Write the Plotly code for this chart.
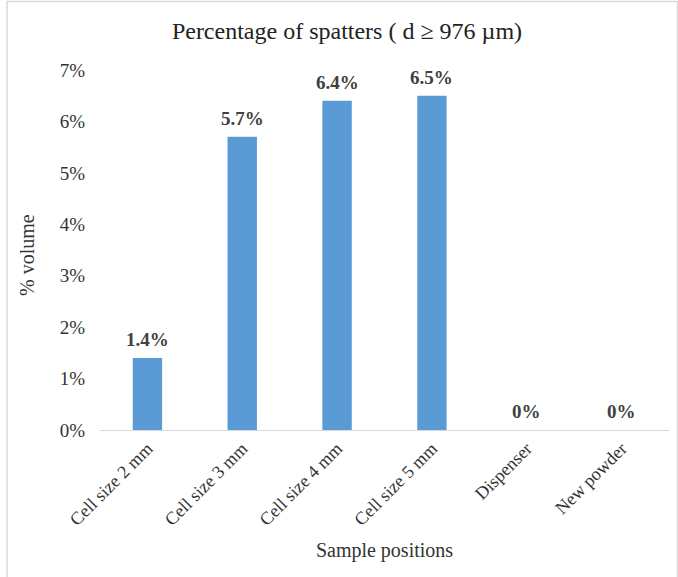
import plotly.graph_objects as go

# Sample positions and spatter volume fraction (%)
positions = ["Cell size 2 mm", "Cell size 3 mm", "Cell size 4 mm",
             "Cell size 5 mm", "Dispenser", "New powder"]
spatter_pct = [1.4, 5.7, 6.4, 6.5, 0, 0]
y_ticks = [0, 1, 2, 3, 4, 5, 6, 7]
y_tick_labels = [f"{v}%" for v in y_ticks]

FONT = "Liberation Serif, Times New Roman, serif"
TEXT = "#333333"
BAR = "#5B9BD5"
GRID = "#D9D9D9"

W, H = 678, 577
L, R, T, B = 100, 9, 70, 147
plot_w = W - L - R
plot_h = H - T - B


def px_to_paper_x(px):
    return (px - L) / plot_w


def px_to_paper_y(py):
    return (H - B - py) / plot_h


fig = go.Figure()
fig.add_trace(go.Bar(
    x=positions,
    y=spatter_pct,
    marker=dict(color=BAR, line=dict(width=0)),
    hoverinfo="x+y",
))

# value labels above each bar
annotations = []
for cat, val in zip(positions, spatter_pct):
    label = f"{val:.1f}%" if val else "0%"
    annotations.append(dict(
        x=cat, y=val, xref="x", yref="y",
        text=f"<b>{label}</b>", showarrow=False,
        yanchor="bottom", yshift=6,
        font=dict(family=FONT, size=19, color="#404040"),
    ))

# rotated y-axis title
annotations.append(dict(
    x=px_to_paper_x(27), y=px_to_paper_y(255), xref="paper", yref="paper",
    text="% volume", textangle=-90, showarrow=False,
    xanchor="center", yanchor="middle",
    font=dict(family=FONT, size=20, color=TEXT),
))

fig.update_layout(
    width=W, height=H,
    margin=dict(l=L, r=R, t=T, b=B, pad=0),
    paper_bgcolor="white",
    plot_bgcolor="white",
    bargap=0.69,
    showlegend=False,
    title=dict(
        text="Percentage of spatters ( d \u2265 976 \u00b5m)",
        x=347 / W, xanchor="center",
        y=1 - 31 / H, yanchor="middle",
        font=dict(family=FONT, size=24, color="#222222"),
    ),
    xaxis=dict(
        tickangle=-45,
        tickfont=dict(family=FONT, size=18, color=TEXT),
        showline=True, linecolor=GRID, linewidth=1,
        showgrid=False, ticks="",
        title=dict(text="Sample positions", standoff=14,
                   font=dict(family=FONT, size=20, color=TEXT)),
    ),
    yaxis=dict(
        range=[0, 7],
        tickvals=y_ticks, ticktext=y_tick_labels,
        tickfont=dict(family=FONT, size=19, color=TEXT),
        showgrid=False, zeroline=False, showline=False, ticks="",
        ticklabelstandoff=14,
    ),
    annotations=annotations,
    shapes=[dict(
        type="rect", xref="paper", yref="paper",
        x0=px_to_paper_x(7), x1=px_to_paper_x(677.5),
        y0=px_to_paper_y(590), y1=px_to_paper_y(1.5),
        line=dict(color=GRID, width=1.5), fillcolor="rgba(0,0,0,0)",
        layer="below",
    )],
)

fig.write_html("out.html")
